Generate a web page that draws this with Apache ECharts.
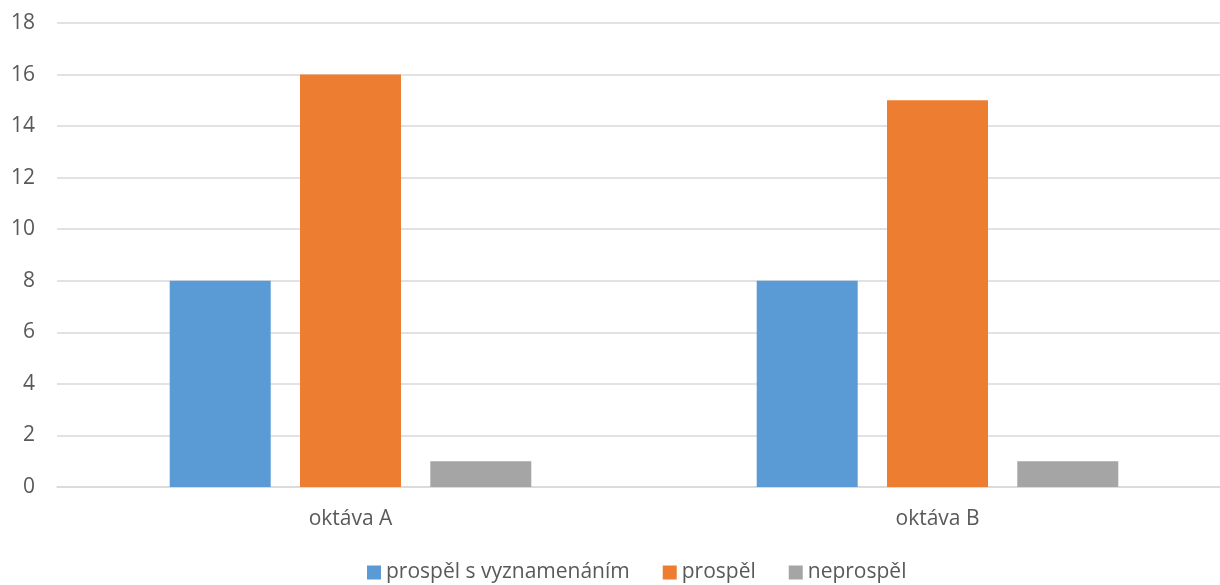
<!DOCTYPE html>
<html>
<head>
<meta charset="utf-8">
<script src="https://cdn.jsdelivr.net/npm/echarts@6/dist/echarts.min.js"></script>
<style>
  html, body { margin: 0; padding: 0; background: #fff; }
  #chart { width: 1220px; height: 585px; }
</style>
</head>
<body>
<div id="chart"></div>
<script>
// kategorie a hodnoty
const categories = ['oktáva A', 'oktáva B'];
const seriesNames = ['prospěl s vyznamenáním', 'prospěl', 'neprospěl'];
const vyznamenani = [8, 8];
const prospel = [16, 15];
const neprospel = [1, 1];
const colors = ['#5B9BD5', '#ED7D31', '#A5A5A5'];

const font = '"Open Sans", sans-serif';
const chart = echarts.init(document.getElementById('chart'));
chart.setOption({
    animation: false,
    color: colors,
    textStyle: { fontFamily: font },
    grid: { left: 57, right: -11, top: 23, bottom: 98, outerBoundsMode: 'none', containLabel: false },
    legend: {
        top: 562,
        left: 367,
        icon: 'rect',
        itemWidth: 14,
        itemHeight: 14,
        itemGap: 33,
        padding: 0,
        textStyle: { color: '#595959', fontSize: 21, fontFamily: font },
        data: seriesNames
    },
    xAxis: {
        type: 'category',
        data: categories,
        axisLine: { lineStyle: { color: '#d9d9d9', width: 1.5 } },
        axisTick: { show: false },
        axisLabel: { color: '#595959', fontSize: 21, fontFamily: font, margin: 22 }
    },
    yAxis: {
        type: 'value',
        min: 0,
        max: 18,
        interval: 2,
        axisLine: { show: false },
        axisTick: { show: false },
        axisLabel: { color: '#595959', fontSize: 21, fontFamily: font, margin: 22 },
        splitLine: { lineStyle: { color: '#d9d9d9', width: 1.5 } }
    },
    series: [
        { name: seriesNames[0], type: 'bar', data: vyznamenani, barWidth: 101, barGap: '29%' },
        { name: seriesNames[1], type: 'bar', data: prospel, barWidth: 101, barGap: '29%' },
        { name: seriesNames[2], type: 'bar', data: neprospel, barWidth: 101, barGap: '29%' }
    ]
});
</script>
</body>
</html>
